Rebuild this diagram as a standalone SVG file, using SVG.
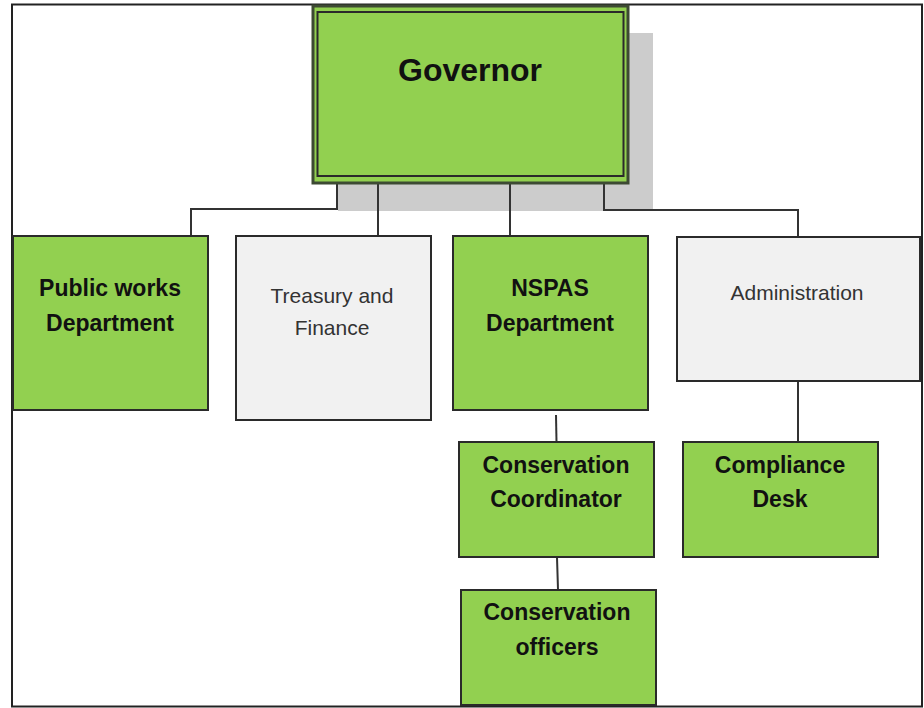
<svg xmlns="http://www.w3.org/2000/svg" width="924" height="708" viewBox="0 0 924 708">
<style>
.box{stroke:#2a2a2a;stroke-width:2}
.g{fill:#92d050}
.w{fill:#f1f1f1}
.t{font-family:"Liberation Sans",Arial,sans-serif;text-anchor:middle;fill:#111}
.b{font-weight:bold;font-size:23px}
.r{font-size:21px;fill:#333}
.c{fill:none;stroke:#333;stroke-width:2}
</style>
<rect x="0" y="0" width="924" height="708" fill="#fff"/>
<rect x="12" y="4.5" width="910" height="702" fill="none" stroke="#222" stroke-width="2"/>
<rect x="338" y="33" width="315" height="178" fill="#cccccc"/>
<g id="connectors">
<polyline class="c" points="337,183 337,209 191,209 191,236"/>
<line class="c" x1="378" y1="183" x2="378" y2="236"/>
<line class="c" x1="510" y1="183" x2="510" y2="236"/>
<polyline class="c" points="604,183 604,210 798,210 798,237"/>
<line class="c" x1="798" y1="381" x2="798" y2="442"/>
<line class="c" x1="556" y1="415" x2="556.5" y2="442"/>
<line class="c" x1="557" y1="557" x2="558" y2="590"/>
</g>
<g id="governor">
<rect x="313" y="6" width="315" height="177" class="g" stroke="#3d4a33" stroke-width="3"/>
<rect x="317.5" y="12" width="306" height="164" fill="none" stroke="#2a2a2a" stroke-width="2"/>
<text class="t" x="470" y="81" font-weight="bold" font-size="32">Governor</text>
</g>
<g id="public-works">
<rect x="13" y="236" width="195" height="174" class="box g"/>
<text class="t b" x="110" y="296">Public works</text>
<text class="t b" x="110" y="331">Department</text>
</g>
<g id="treasury">
<rect x="236" y="236" width="195" height="184" class="box w"/>
<text class="t r" x="332" y="303">Treasury and</text>
<text class="t r" x="332" y="335">Finance</text>
</g>
<g id="nspas">
<rect x="453" y="236" width="195" height="174" class="box g"/>
<text class="t b" x="550" y="296">NSPAS</text>
<text class="t b" x="550" y="331">Department</text>
</g>
<g id="administration">
<rect x="677" y="237" width="243" height="144" class="box w"/>
<text class="t r" x="797" y="300">Administration</text>
</g>
<g id="conservation-coordinator">
<rect x="459" y="442" width="195" height="115" class="box g"/>
<text class="t b" x="556" y="473">Conservation</text>
<text class="t b" x="556" y="507">Coordinator</text>
</g>
<g id="compliance-desk">
<rect x="683" y="442" width="195" height="115" class="box g"/>
<text class="t b" x="780" y="473">Compliance</text>
<text class="t b" x="780" y="507">Desk</text>
</g>
<g id="conservation-officers">
<rect x="461" y="590" width="195" height="115" class="box g"/>
<text class="t b" x="557" y="620">Conservation</text>
<text class="t b" x="557" y="655">officers</text>
</g>
</svg>
